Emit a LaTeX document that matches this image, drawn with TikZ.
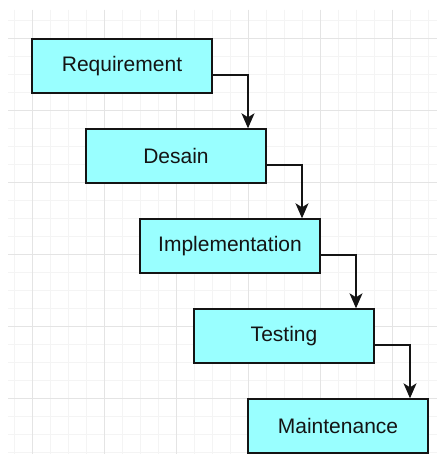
\documentclass[tikz,border=0pt]{standalone}
\usepackage{fontspec}
\setmainfont{Liberation Sans}
\usetikzlibrary{arrows.meta}
\definecolor{boxfill}{RGB}{153,255,255}
\definecolor{gridminor}{RGB}{244,244,244}
\definecolor{gridmajor}{RGB}{228,228,228}
\definecolor{inkcol}{RGB}{20,20,20}

\begin{document}
\begin{tikzpicture}[x=1pt,y=-1pt,
  phase/.style={draw=inkcol, fill=boxfill, line width=1.4pt,
    minimum width=180pt, minimum height=54pt, inner sep=0pt,
    text=inkcol, font=\fontsize{21}{25}\selectfont},
  conn/.style={draw=inkcol, line width=1.3pt,
    -{Stealth[length=15pt,width=13pt,inset=4pt]}},
  minorline/.style={draw=gridminor, line width=1pt},
  majorline/.style={draw=gridmajor, line width=1pt}]

\useasboundingbox (0,0) rectangle (437,454);
\fill[white] (0,0) rectangle (437,454);

% background grid: fine lines every 18pt, heavier lines every 72pt
\foreach \i in {0,...,23} {
  \pgfmathsetmacro{\gx}{14+18*\i}
  \draw[minorline] (\gx,10) -- (\gx,454);
}
\foreach \i in {0,...,24} {
  \pgfmathsetmacro{\gy}{20.5+18*\i}
  \draw[minorline] (8,\gy) -- (437,\gy);
}
\foreach \gx in {32,104,176,248,320,392}
  \draw[majorline] (\gx,10) -- (\gx,454);
\foreach \gy in {38.5,110.5,182.5,254.5,326.5,398.5}
  \draw[majorline] (8,\gy) -- (437,\gy);

% waterfall phases
\node[phase] (req)  at (122,66)  {Requirement};
\node[phase] (des)  at (176,156) {Desain};
\node[phase] (impl) at (230,246) {Implementation};
\node[phase] (test) at (284,336) {Testing};
\node[phase] (mnt)  at (338,426) {Maintenance};

% step-down connectors
\draw[conn] ([yshift=-9pt]req.east)  -| ([xshift=72pt]des.north);
\draw[conn] ([yshift=-9pt]des.east)  -| ([xshift=72pt]impl.north);
\draw[conn] ([yshift=-9pt]impl.east) -| ([xshift=72pt]test.north);
\draw[conn] ([yshift=-9pt]test.east) -| ([xshift=72pt]mnt.north);
\end{tikzpicture}
\end{document}
